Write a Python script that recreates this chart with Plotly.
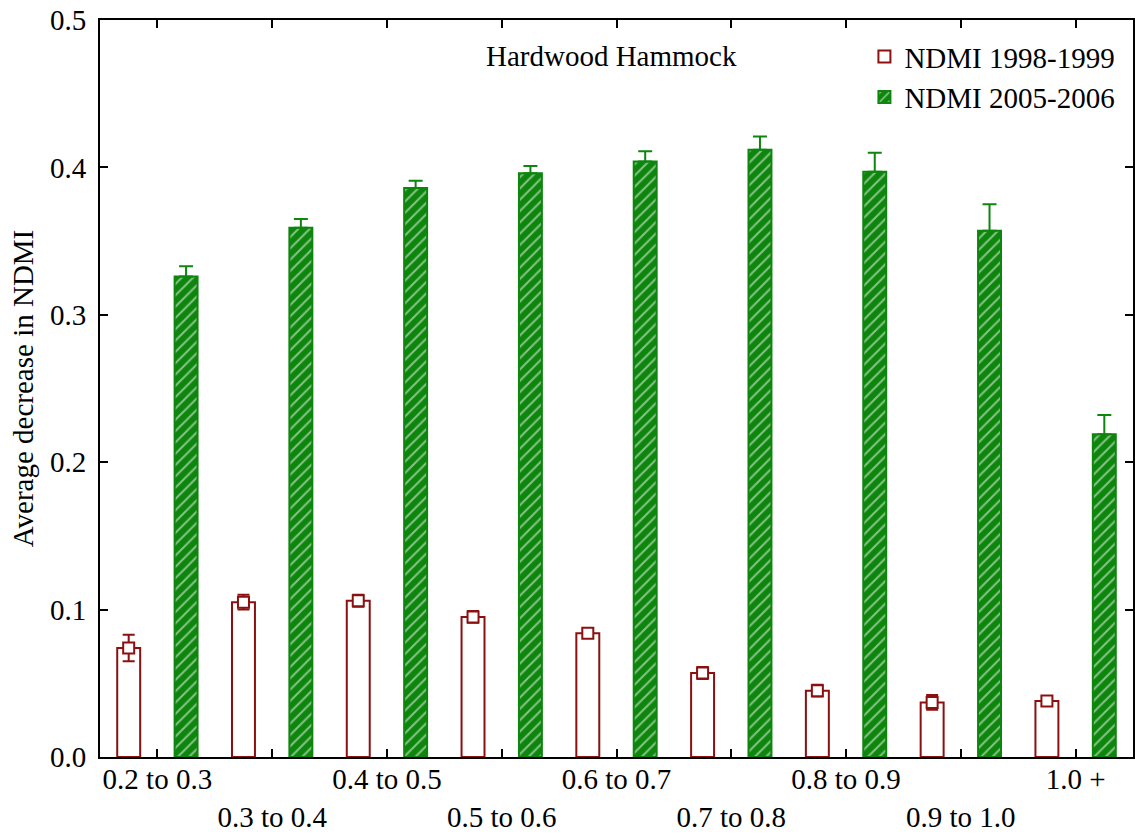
import plotly.graph_objects as go

# NDMI decrease classes
categories = ["0.2 to 0.3", "0.3 to 0.4", "0.4 to 0.5", "0.5 to 0.6", "0.6 to 0.7",
              "0.7 to 0.8", "0.8 to 0.9", "0.9 to 1.0", "1.0 +"]

# Average decrease in NDMI, 1998-1999, with standard errors
ndmi_9899 = [0.074, 0.105, 0.106, 0.095, 0.084, 0.057, 0.045, 0.037, 0.038]
err_9899 = [0.009, 0.005, 0.004, 0.004, 0.003, 0.004, 0.004, 0.005, 0.003]

# Average decrease in NDMI, 2005-2006, with standard errors
ndmi_0506 = [0.326, 0.359, 0.386, 0.396, 0.404, 0.412, 0.397, 0.357, 0.219]
err_0506 = [0.007, 0.006, 0.005, 0.005, 0.007, 0.009, 0.013, 0.018, 0.013]

y_ticks = [0.0, 0.1, 0.2, 0.3, 0.4, 0.5]

RED = "#8B1010"
GREEN = "#0E860E"
FONT = "Liberation Serif"
FS = 29

idx = list(range(len(categories)))
x_red = [i - 0.25 for i in idx]
x_green = [i + 0.25 for i in idx]

fig = go.Figure()

fig.add_trace(go.Bar(
    x=x_red, y=ndmi_9899, width=0.2, name="NDMI 1998-1999",
    marker=dict(color="white", line=dict(color=RED, width=2)),
    legendrank=1,
))
fig.add_trace(go.Scatter(
    x=x_red, y=ndmi_9899, mode="markers", showlegend=False,
    marker=dict(symbol="square", size=11, color="white", line=dict(color=RED, width=2)),
    error_y=dict(type="data", array=err_9899, visible=True, color=RED, thickness=2, width=6),
))
fig.add_trace(go.Bar(
    x=x_green, y=ndmi_0506, width=0.2, name="NDMI 2005-2006",
    marker=dict(color=GREEN, line=dict(color=GREEN, width=2),
                pattern=dict(shape="/", fgcolor="white", bgcolor=GREEN,
                             size=8, solidity=0.25)),
    error_y=dict(type="data", symmetric=False, array=err_0506,
                 arrayminus=[0] * len(err_0506), visible=True,
                 color=GREEN, thickness=2, width=7),
    legendrank=2,
))

# staggered category labels: alternate labels drop to a second row
tick_text = [c if i % 2 == 0 else "<br>" + c for i, c in enumerate(categories)]

fig.update_layout(
    width=1135, height=835,
    margin=dict(l=100, r=2, t=20, b=78),
    paper_bgcolor="white", plot_bgcolor="white",
    barmode="overlay",
    font=dict(family=FONT, size=FS, color="black"),
    showlegend=True,
    legend=dict(x=0.74, y=0.985, xanchor="left", yanchor="top",
                bgcolor="rgba(0,0,0,0)", font=dict(family=FONT, size=FS),
                tracegroupgap=0, itemsizing="constant"),
    annotations=[dict(text="Hardwood Hammock", x=0.4956, y=0.976,
                      xref="paper", yref="paper", showarrow=False,
                      font=dict(family=FONT, size=FS))],
)

fig.update_xaxes(
    range=[-0.5, 8.5], tickvals=idx, ticktext=tick_text, tickangle=0,
    ticks="inside", ticklen=8, tickwidth=1.5, tickcolor="black",
    showline=True, linecolor="black", linewidth=2, mirror="allticks",
    showgrid=False, zeroline=False, tickfont=dict(family=FONT, size=FS),
    automargin=False, ticklabelstandoff=-5,
)
fig.update_yaxes(
    range=[0, 0.5], tickvals=y_ticks, tickformat=".1f",
    ticks="inside", ticklen=8, tickwidth=1.5, tickcolor="black",
    showline=True, linecolor="black", linewidth=2, mirror="allticks",
    showgrid=False, zeroline=False, ticklabelstandoff=6,
    tickfont=dict(family=FONT, size=FS), automargin=False,
    title=dict(text="Average decrease in NDMI", standoff=8,
               font=dict(family=FONT, size=FS)),
)

fig.write_html("out.html")
